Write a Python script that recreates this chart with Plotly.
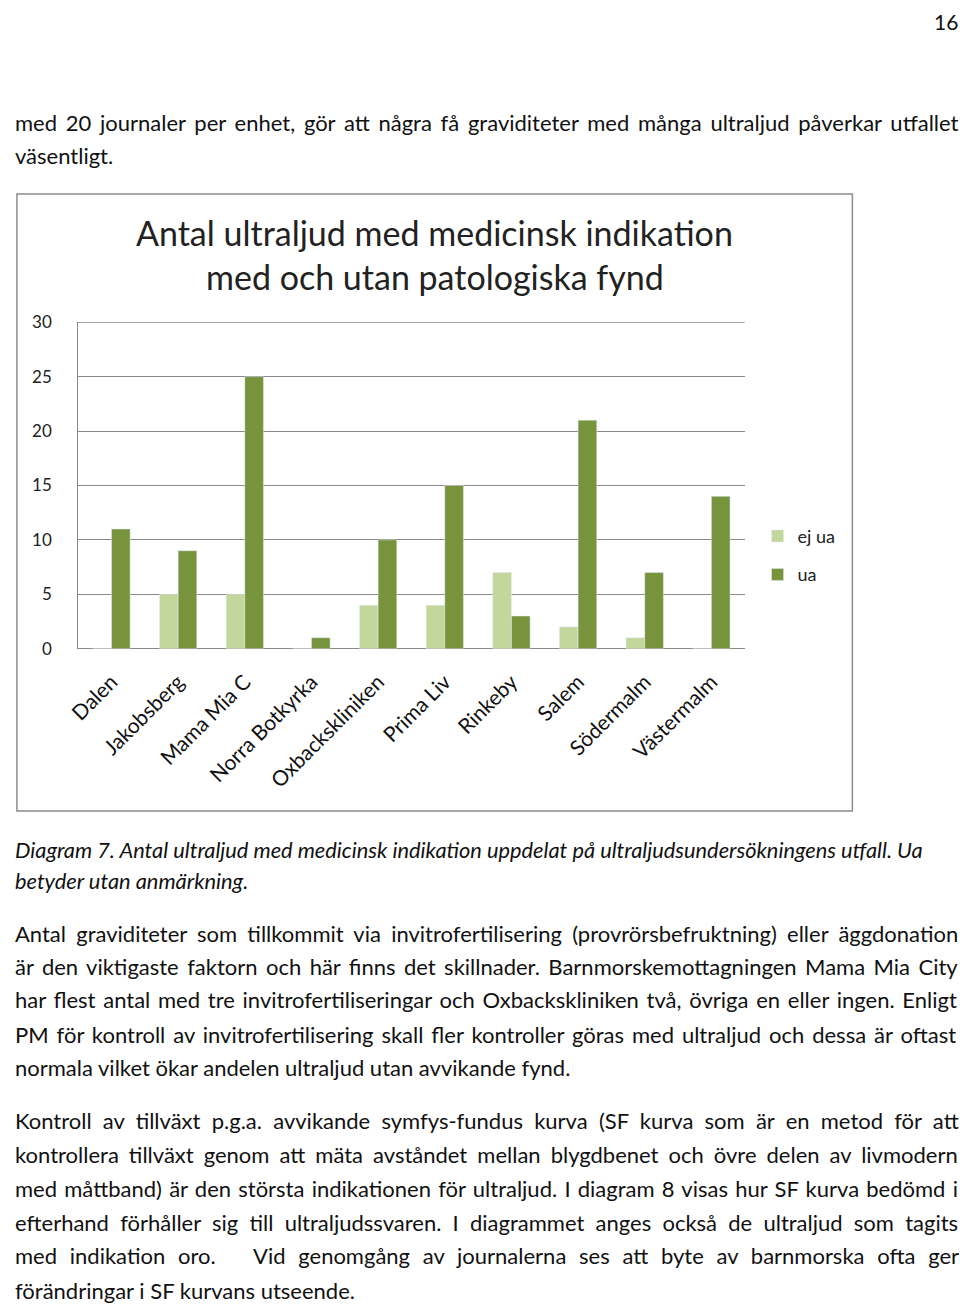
import plotly.graph_objects as go

W, H = 960, 1315

categories = ["Dalen", "Jakobsberg", "Mama Mia C", "Norra Botkyrka", "Oxbackskliniken",
              "Prima Liv", "Rinkeby", "Salem", "Södermalm", "Västermalm"]
ej_ua = [0, 5, 5, 0, 4, 4, 7, 2, 1, 0]
ua = [11, 9, 25, 1, 10, 15, 3, 21, 7, 14]
y_ticks = [0, 5, 10, 15, 20, 25, 30]

title_lines = ["Antal ultraljud med medicinsk indikation", "med och utan patologiska fynd"]

page_number = "16"
text_top = ["med 20 journaler per enhet, gör att några få graviditeter med många ultraljud påverkar utfallet",
            "väsentligt."]
caption = ["Diagram 7. Antal ultraljud med medicinsk indikation uppdelat på ultraljudsundersökningens utfall. Ua",
           "betyder utan anmärkning."]
para1 = ["Antal graviditeter som tillkommit via invitrofertilisering (provrörsbefruktning) eller äggdonation",
         "är den viktigaste faktorn och här finns det skillnader. Barnmorskemottagningen Mama Mia City",
         "har flest antal med tre invitrofertiliseringar och Oxbackskliniken två, övriga en eller ingen. Enligt",
         "PM för kontroll av invitrofertilisering skall fler kontroller göras med ultraljud och dessa är oftast",
         "normala vilket ökar andelen ultraljud utan avvikande fynd."]
para2 = ["Kontroll av tillväxt p.g.a. avvikande symfys-fundus kurva (SF kurva som är en metod för att",
         "kontrollera tillväxt genom att mäta avståndet mellan blygdbenet och övre delen av livmodern",
         "med måttband) är den största indikationen för ultraljud. I diagram 8 visas hur SF kurva bedömd i",
         "efterhand förhåller sig till ultraljudssvaren. I diagrammet anges också de ultraljud som tagits",
         "med indikation oro.&nbsp;&nbsp;&nbsp;Vid genomgång av journalerna ses att byte av barnmorska ofta ger",
         "förändringar i SF kurvans utseende."]

# extra word spacing (px) that imitates the justified lines of the page
ws_top = [3.1, 0]
ws_para1 = [4.6, 2.8, 2.1, 2.3, 0]
ws_para2 = [5.6, 4.4, 1.6, 5.6, 7.1, 0]

FONT = "Lato, 'Open Sans', sans-serif"
C_LIGHT = "#c3d69b"
C_DARK = "#77933c"
C_GRID = "#8a8a8a"


def px(x):
    return x / W


def py(y):
    return 1 - y / H


fig = go.Figure()
fig.add_trace(go.Bar(x=categories, y=ej_ua, name="ej ua", marker_color=C_LIGHT, legendgroup="a"))
fig.add_trace(go.Bar(x=categories, y=ua, name="ua", marker_color=C_DARK, legendgroup="b"))

plot_left, plot_right = 67, 742
plot_bottom, plot_top = 648, 316.0
y_max = 30.03

fig.update_layout(
    width=W, height=H,
    margin=dict(l=0, r=0, t=0, b=0),
    paper_bgcolor="white", plot_bgcolor="white",
    barmode="group", bargap=0.44, bargroupgap=0,
    font=dict(family=FONT, color="#222"),
    xaxis=dict(domain=[px(plot_left), px(plot_right)], tickangle=-45,
               tickfont=dict(size=21, color="#111"), showgrid=False,
               showline=False, ticks="", ticklabelstandoff=16),
    yaxis=dict(domain=[py(plot_bottom), py(plot_top)], range=[0, y_max],
               tickvals=y_ticks, tickfont=dict(size=17, color="#222"),
               showgrid=True, gridcolor=C_GRID, gridwidth=1,
               showline=True, linecolor=C_GRID, linewidth=1,
               zeroline=True, zerolinecolor=C_GRID, zerolinewidth=1,
               ticks="", ticklabelstandoff=22),
    legend=dict(x=px(755), y=py(515), xanchor="left", yanchor="top",
                font=dict(size=18, color="#222"), tracegroupgap=12,
                itemwidth=30, bgcolor="rgba(0,0,0,0)"),
    showlegend=True,
)

# top gridline at the axis maximum tick (drawn on the y scale)
fig.add_shape(type="line", xref="x domain", yref="y", x0=0, x1=1,
              y0=y_ticks[-1], y1=y_ticks[-1], line=dict(color=C_GRID, width=1), layer="below")

# chart box
fig.add_shape(type="rect", xref="paper", yref="paper",
              x0=px(5), x1=px(851), y0=py(813), y1=py(186),
              line=dict(color="#8c8c8c", width=1.5), layer="below")

# title
for i, t in enumerate(title_lines):
    fig.add_annotation(text=t, xref="paper", yref="paper", x=px(428), y=py(225 + 45 * i),
                       xanchor="center", yanchor="middle", showarrow=False,
                       font=dict(size=34, color="#222", family=FONT))


def add_lines(lines, ys, spacings=None, italic=False, size=22):
    if spacings is None:
        spacings = [0] * len(lines)
    for t, yy, ws in zip(lines, ys, spacings):
        txt = f'<span style="word-spacing:{ws}px">{t}</span>' if ws else t
        fig.add_annotation(text=txt, xref="paper", yref="paper", x=px(1), y=py(yy),
                           xanchor="left", yanchor="middle", showarrow=False,
                           font=dict(size=size, color="#111", family=FONT,
                                     style="italic" if italic else "normal"))


fig.add_annotation(text=page_number, xref="paper", yref="paper", x=px(960), y=py(11),
                   xanchor="right", yanchor="middle", showarrow=False,
                   font=dict(size=21, color="#111", family=FONT))
add_lines(text_top, [113, 147], ws_top)
add_lines(caption, [852, 884], italic=True, size=21.8)
add_lines(para1, [937, 971, 1005, 1040, 1074], ws_para1)
add_lines(para2, [1128, 1162, 1197, 1231, 1265, 1300], ws_para2)

fig.write_html("out.html", config={"displayModeBar": False},
               post_script="document.body.style.margin='0';"
                           "document.documentElement.style.overflow='hidden';"
                           "document.body.style.overflow='hidden';")
